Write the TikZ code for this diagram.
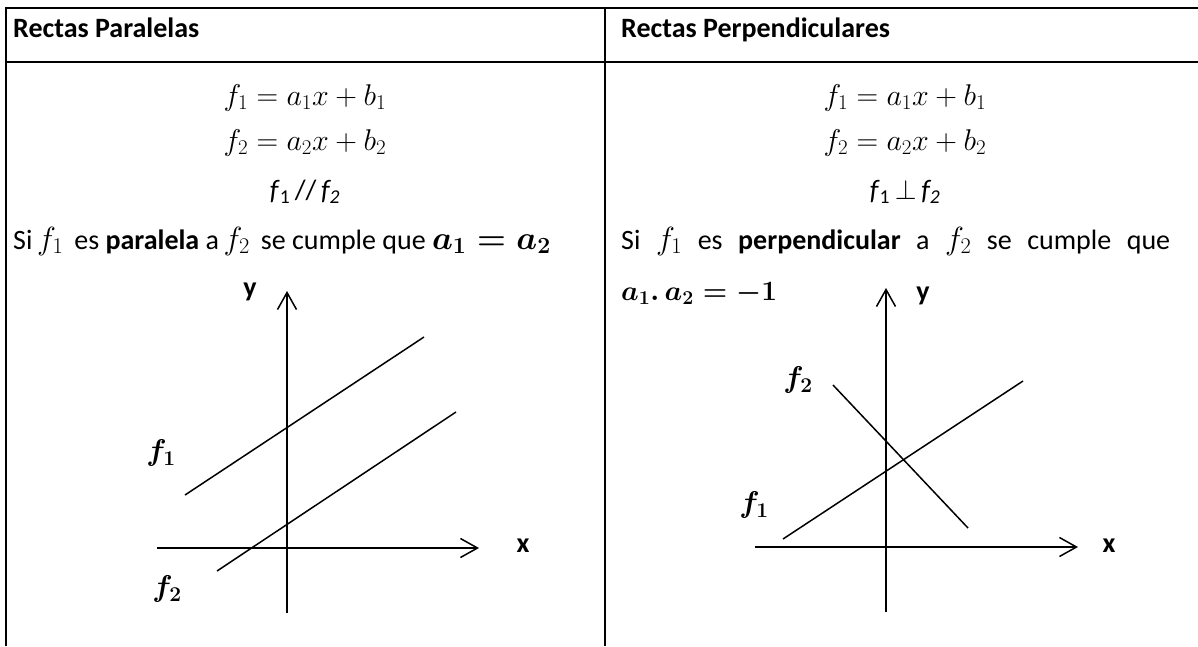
\RequirePackage{fix-cm}
\documentclass[tikz,border=0pt]{standalone}
\usepackage{amsmath}
\usepackage[no-math]{fontspec}
\setmainfont{Carlito}
\usetikzlibrary{arrows.meta}
\newcommand\mthA[1]{{\fontsize{32}{38}\selectfont$#1$}}
\newcommand\mthB[1]{{\fontsize{33}{38}\selectfont$\boldsymbol{#1}$}}
\tikzset{
  tline/.style={line width=2pt},
  gline/.style={line width=1.5pt},
  axis/.style={gline,-{Straight Barb[length=17pt,width=19pt,line width=1.5pt]}},
  txt/.style={inner sep=0pt,anchor=base,font=\fontsize{28}{34}\selectfont},
  eq/.style={inner sep=0pt,anchor=base,font=\fontsize{30}{36}\selectfont},
  hdr/.style={inner sep=0pt,anchor=base west,font=\fontsize{28}{34}\selectfont\bfseries},
  axlab/.style={inner sep=0pt,font=\fontsize{28}{34}\selectfont\bfseries},
  flab/.style={inner sep=0pt,font=\fontsize{30}{36}\selectfont},
}
\begin{document}
\begin{tikzpicture}[x=1pt,y=-1pt]
\path[use as bounding box,fill=white] (0,0) rectangle (1198,646);
% table
\coordinate (tl) at (6,8);
\coordinate (bl) at (6,646);
\coordinate (tr) at (1198,8);
\coordinate (hl) at (6,62);
\coordinate (hr) at (1198,62);
\coordinate (mt) at (605,8);
\coordinate (mb) at (605,646);
\draw[tline] (bl) -- (tl) -- (tr);
\draw[tline] (hl) -- (hr);
\draw[tline] (mt) -- (mb);
% headers
\node[hdr] (h1) at (13,37) {Rectas Paralelas};
\node[hdr] (h2) at (621,37) {Rectas Perpendiculares};
% left column text
\node[eq] (a1) at (305,105) {$f_1 = a_1x + b_1$};
\node[eq] (a2) at (305,150) {$f_2 = a_2x + b_2$};
\node[txt] (a3) at (305,199) {\textit{f}\textsubscript{1}\,//\,\textit{f\textsubscript{2}}};
\node[txt,anchor=base west] (a4) at (13,249) {Si\,\mthA{f_1}\, es \textbf{paralela} a\,\mthA{f_2}\, se cumple que \mthB{a_1=a_2}};
% right column text
\node[eq] (b1) at (905,105) {$f_1 = a_1x + b_1$};
\node[eq] (b2) at (905,150) {$f_2 = a_2x + b_2$};
\node[txt] (b3) at (905,199) {\textit{f}\textsubscript{1}\,$\perp$\,\textit{f\textsubscript{2}}};
\node[txt,anchor=base west] (b4) at (621,249) {\makebox[549pt][s]{Si \mthA{f_1} es \textbf{perpendicular} a \mthA{f_2} se cumple que}};
\node[txt,anchor=base west] (b5) at (621,300) {$\boldsymbol{a_1.\,a_2=-1}$};
% left graph
\coordinate (ly0) at (287,613);
\coordinate (ly1) at (287,291);
\coordinate (lx0) at (157,548);
\coordinate (lx1) at (479,548);
\draw[axis] (ly0) -- (ly1);
\draw[axis] (lx0) -- (lx1);
\coordinate (p1a) at (185,495);
\coordinate (p1b) at (424,337);
\coordinate (p2a) at (217,571);
\coordinate (p2b) at (456,412);
\draw[gline] (p1a) -- (p1b);
\draw[gline] (p2a) -- (p2b);
\node[axlab] (ylab) at (250,292) {y};
\node[axlab] (xlab) at (523,546) {x};
\node[flab] (lf1) at (161,453) {$\boldsymbol{f_1}$};
\node[flab] (lf2) at (167,589) {$\boldsymbol{f_2}$};
% right graph
\coordinate (ry0) at (886,612);
\coordinate (ry1) at (886,288);
\coordinate (rx0) at (755,547);
\coordinate (rx1) at (1078,547);
\draw[axis] (ry0) -- (ry1);
\draw[axis] (rx0) -- (rx1);
\coordinate (q1a) at (783,539);
\coordinate (q1b) at (1023,381);
\coordinate (q2a) at (833,385);
\coordinate (q2b) at (968,528);
\draw[gline] (q1a) -- (q1b);
\draw[gline] (q2a) -- (q2b);
\node[axlab] (ylab2) at (923,296) {y};
\node[axlab] (xlab2) at (1109,546) {x};
\node[flab] (rf2) at (798,380) {$\boldsymbol{f_2}$};
\node[flab] (rf1) at (754,505) {$\boldsymbol{f_1}$};
\end{tikzpicture}
\end{document}
